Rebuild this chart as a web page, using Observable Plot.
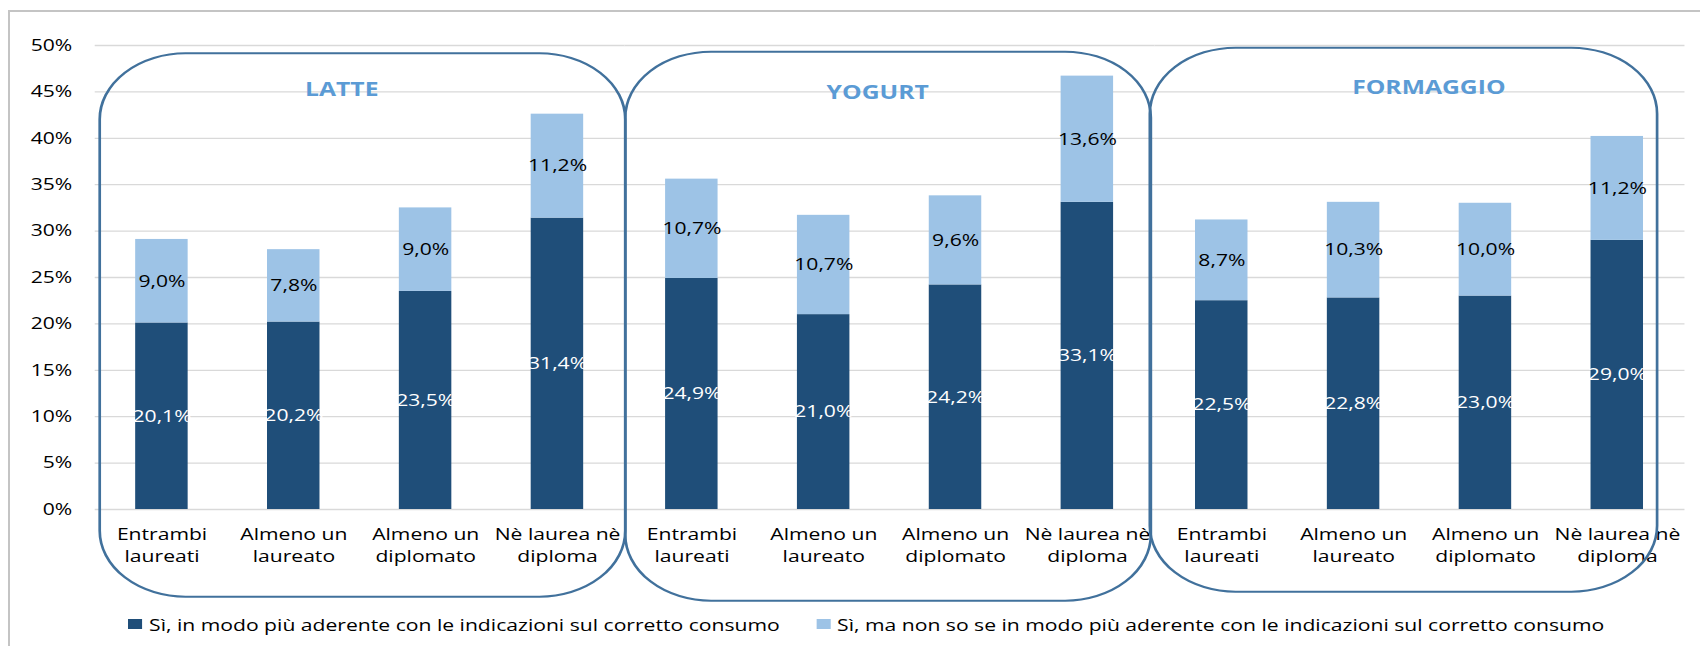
<!DOCTYPE html>
<html>
<head>
<meta charset="utf-8">
<script src="https://cdn.jsdelivr.net/npm/d3@7"></script>
<script src="https://cdn.jsdelivr.net/npm/@observablehq/plot@0.6"></script>
<style>
  html, body { margin: 0; padding: 0; background: #fff; overflow: hidden; }
  #wrap { position: relative; width: 1328px; transform: scaleX(1.28); transform-origin: 0 0; font-family: "Open Sans", sans-serif; }
  #wrap svg { display: block; max-width: none; }
  #border { position: absolute; left: 8px; top: 10px; width: 2000px; height: 1000px; border-top: 2px solid #c4c4c4; border-left: 2px solid #c4c4c4; pointer-events: none; }
  .legend { position: relative; height: 36px; font-size: 16.5px; color: #000; }
  .item { position: absolute; top: 0; height: 36px; display: flex; align-items: center; white-space: nowrap; }
  .sw { width: 11px; height: 10.5px; display: inline-block; margin-right: 5.5px; }
</style>
</head>
<body>
<div id="wrap"></div>
<div id="border"></div>
<script>
// ---- data ----
const groups = ["LATTE", "YOGURT", "FORMAGGIO"];
const categories = ["Entrambi\nlaureati", "Almeno un\nlaureato", "Almeno un\ndiplomato", "Nè laurea nè\ndiploma"];
const seriesNames = [
  "Sì, in modo più aderente con le indicazioni sul corretto consumo",
  "Sì, ma non so se in modo più aderente con le indicazioni sul corretto consumo"
];
const latteAderente = [20.1, 20.2, 23.5, 31.4];
const latteNonSo = [9.0, 7.8, 9.0, 11.2];
const yogurtAderente = [24.9, 21.0, 24.2, 33.1];
const yogurtNonSo = [10.7, 10.7, 9.6, 13.6];
const formaggioAderente = [22.5, 22.8, 23.0, 29.0];
const formaggioNonSo = [8.7, 10.3, 10.0, 11.2];
const yTicks = [0, 5, 10, 15, 20, 25, 30, 35, 40, 45, 50];

// ---- styling / layout ----
const colors = ["#1F4E79", "#9DC3E6"];
const boxLayout = [
  {insetLeft: 3.9, insetRight: -0.5, insetTop: 8.3, insetBottom: -87.7, dx: -14.5, dy: 44},
  {insetLeft: 0.5, insetRight: 2.9, insetTop: 6.7, insetBottom: -91.7, dx: -9.8, dy: 47},
  {insetLeft: -3.7, insetRight: 21.4, insetTop: 2.7, insetBottom: -82.7, dx: 6.8, dy: 42}
];

const aderente = [latteAderente, yogurtAderente, formaggioAderente];
const nonSo = [latteNonSo, yogurtNonSo, formaggioNonSo];

const rows = [];
groups.forEach((g, gi) => categories.forEach((c, ci) => {
  rows.push({group: g, cat: c, dark: aderente[gi][ci], light: nonSo[gi][ci]});
}));
const long = rows.flatMap(r => [
  {group: r.group, cat: r.cat, series: seriesNames[0], value: r.dark},
  {group: r.group, cat: r.cat, series: seriesNames[1], value: r.light}
]);
const fmt = v => v.toFixed(1).replace(".", ",") + "%";

const boxMarks = groups.flatMap((g, gi) => {
  const L = boxLayout[gi];
  return [
    Plot.text([g], {fx: d => d, text: d => d, frameAnchor: "top", lineAnchor: "middle",
      dx: L.dx, dy: L.dy, fill: "#5B9BD5", fontWeight: "bold", fontSize: 19.3}),
    Plot.rect([g], {fx: d => d, fill: "none", stroke: "#41719C", strokeWidth: 2.1, rx: 67, ry: 66,
      insetLeft: L.insetLeft, insetRight: L.insetRight, insetTop: L.insetTop, insetBottom: L.insetBottom})
  ];
});

const chart = Plot.plot({
  width: 1328,
  height: 606,
  marginLeft: 73.4,
  marginRight: 11.7,
  marginTop: 45,
  marginBottom: 97,
  style: {fontFamily: '"Open Sans", sans-serif', fontSize: "16.5px", color: "#000", background: "transparent", overflow: "visible"},
  fx: {domain: groups, padding: 0, axis: null, label: null},
  x: {domain: categories, paddingInner: 0.6, paddingOuter: 0.3, axis: null, label: null},
  y: {domain: [0, 50], ticks: 10, tickSize: 0, tickPadding: 18, tickFormat: d => d + "%", label: null},
  color: {domain: seriesNames, range: colors},
  marks: [
    Plot.ruleY(yTicks, {stroke: "#d9d9d9", strokeWidth: 1.3}),
    Plot.barY(long, {fx: "group", x: "cat", y: "value", fill: "series"}),
    Plot.text(rows, {fx: "group", x: "cat", y: d => d.dark / 2, text: d => fmt(d.dark), fill: "white"}),
    Plot.text(rows, {fx: "group", x: "cat", y: d => d.dark + d.light / 2, text: d => fmt(d.light), fill: "black"}),
    Plot.text(rows, {fx: "group", x: "cat", text: "cat", frameAnchor: "bottom", lineAnchor: "middle", dy: 34.3, lineHeight: 1.33, fill: "black"}),
    ...boxMarks
  ]
});

const wrap = document.getElementById("wrap");
wrap.appendChild(chart);

const legend = document.createElement("div");
legend.className = "legend";
const legendLeft = [100, 637.5];
seriesNames.forEach((s, i) => {
  const it = document.createElement("div");
  it.className = "item";
  it.style.left = legendLeft[i] + "px";
  const sw = document.createElement("span");
  sw.className = "sw";
  sw.style.background = colors[i];
  const tx = document.createElement("span");
  tx.textContent = s;
  it.appendChild(sw);
  it.appendChild(tx);
  legend.appendChild(it);
});
wrap.appendChild(legend);
</script>
</body>
</html>
